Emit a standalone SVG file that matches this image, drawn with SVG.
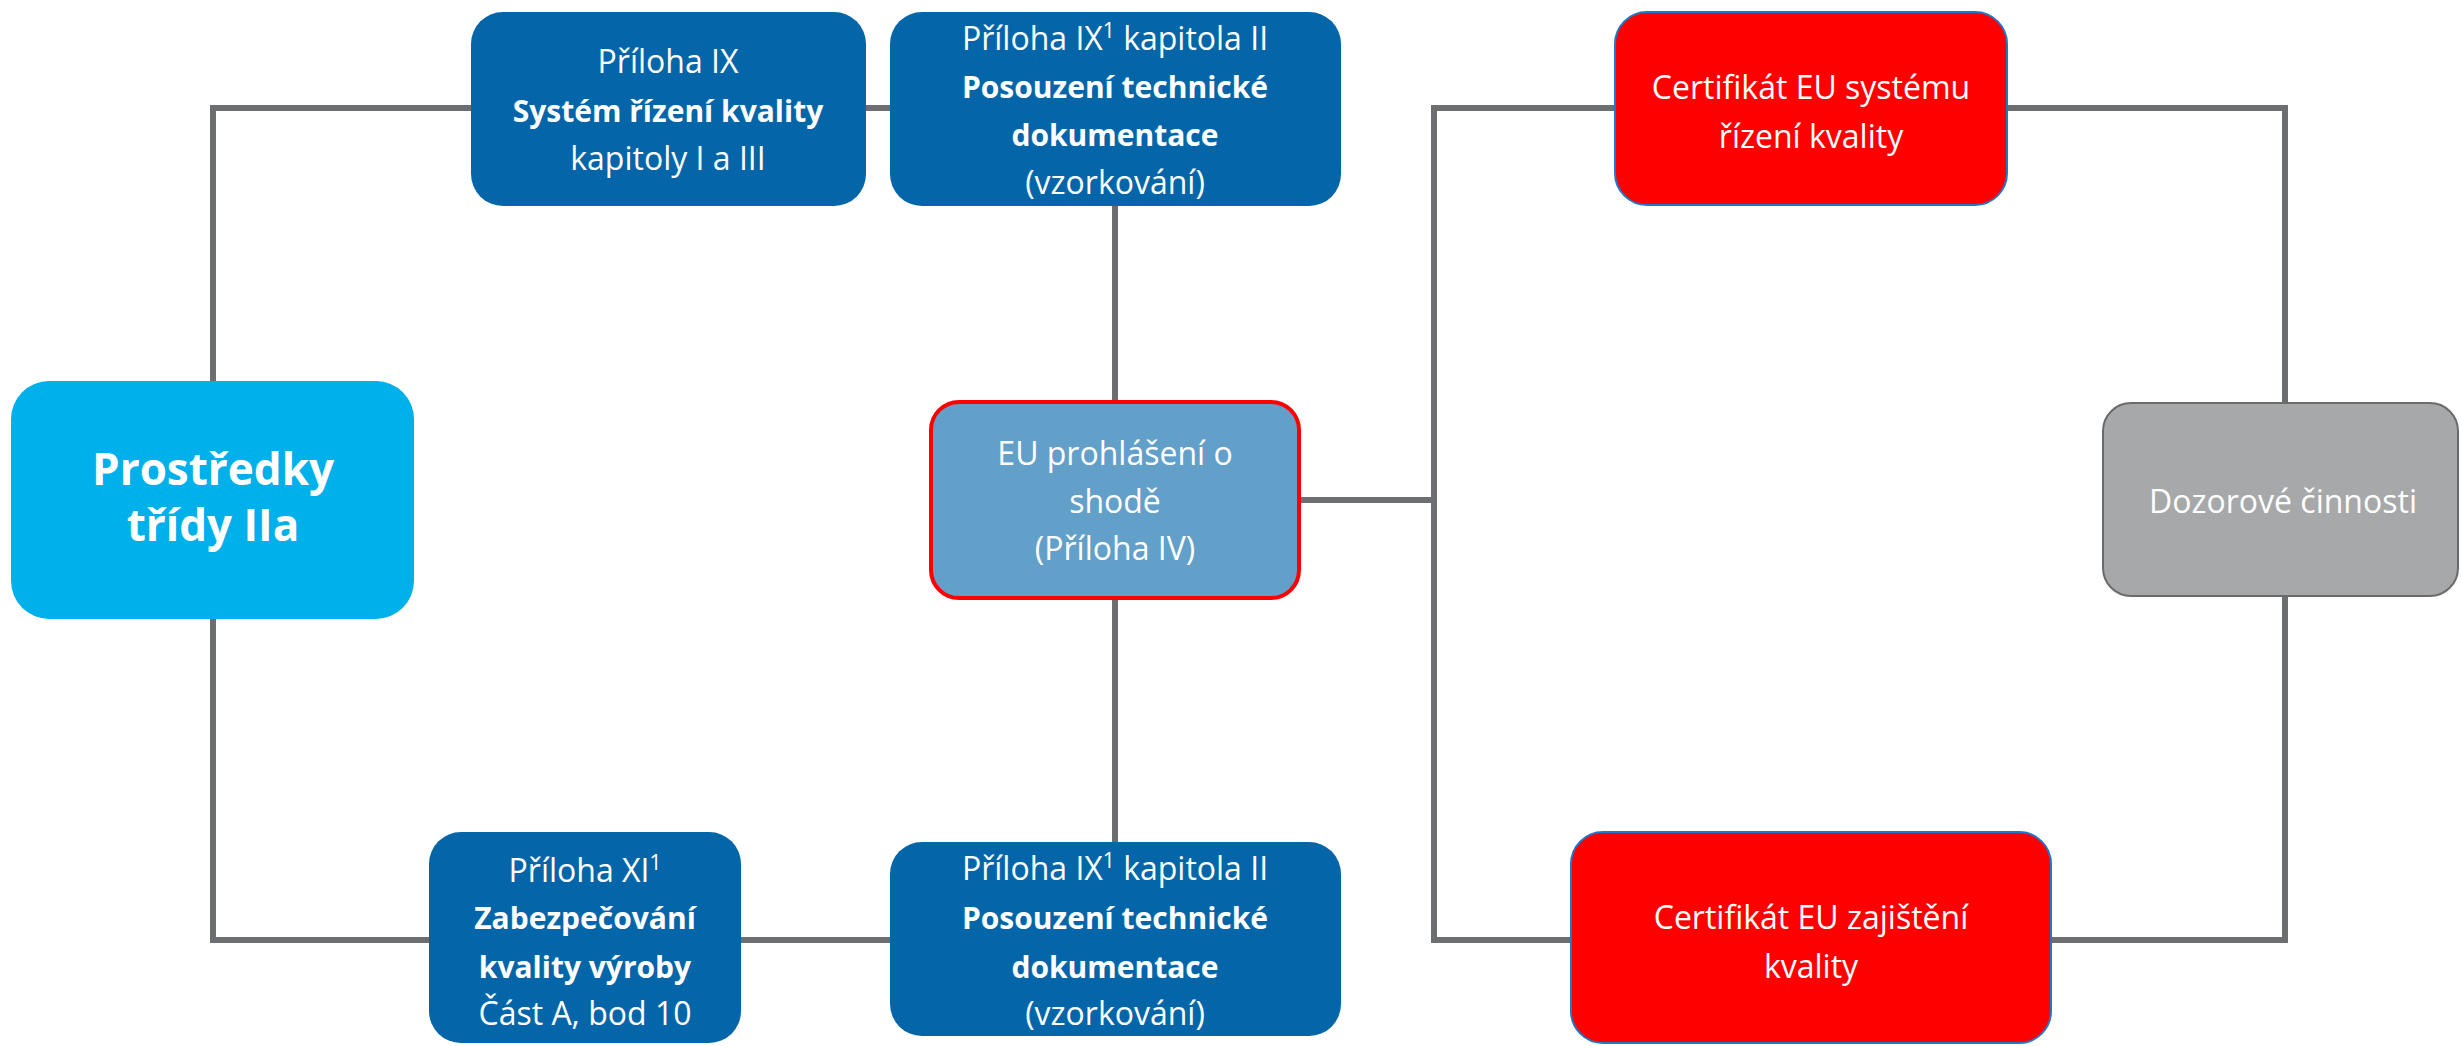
<svg xmlns="http://www.w3.org/2000/svg" width="2461" height="1046" viewBox="0 0 2461 1046">
  <style>
    .link { fill: none; stroke: #6d6e71; stroke-width: 6; }
    .dark { fill: #0466a9; }
    .light { fill: #00b0ea; }
    .decl { fill: #62a0c9; stroke: #ff0000; stroke-width: 4; }
    .cert { fill: #ff0000; stroke: #1f77c8; stroke-width: 2; }
    .grey { fill: #a7a8aa; stroke: #6b6b6b; stroke-width: 2; }
    text { font-family: "Open Sans", "Noto Sans", sans-serif; fill: #ffffff; text-anchor: middle; font-size: 32px; }
    .b { font-weight: bold; font-size: 30px; }
    .big { font-size: 44px; font-weight: bold; }
    .sup { font-size: 21px; }
  </style>

  <g id="connectors">
    <path class="link" d="M890,108 H213 V940 H890"/>
    <path class="link" d="M1115,206 V842"/>
    <path class="link" d="M1299,500 H1434"/>
    <path class="link" d="M1434,108 H2285 V940 H1434 Z"/>
  </g>

  <g id="node-trida">
    <rect class="light" x="11" y="381" width="403" height="238" rx="38"/>
    <text class="big" x="213" y="485">Prostředky</text>
    <text class="big" x="213" y="541">třídy IIa</text>
  </g>

  <g id="node-priloha-ix">
    <rect class="dark" x="471" y="12" width="395" height="194" rx="32"/>
    <text x="668" y="73">Příloha IX</text>
    <text class="b" x="668" y="122">Systém řízení kvality</text>
    <text x="668" y="170">kapitoly I a III</text>
  </g>

  <g id="node-posouzeni-top">
    <rect class="dark" x="890" y="12" width="451" height="194" rx="32"/>
    <text x="1115" y="50">Příloha IX<tspan class="sup" dy="-12">1</tspan><tspan dy="12"> kapitola II</tspan></text>
    <text class="b" x="1115" y="98">Posouzení technické</text>
    <text class="b" x="1115" y="146">dokumentace</text>
    <text x="1115" y="194">(vzorkování)</text>
  </g>

  <g id="node-prohlaseni">
    <rect class="decl" x="931" y="402" width="368" height="196" rx="28"/>
    <text x="1115" y="465">EU prohlášení o</text>
    <text x="1115" y="513">shodě</text>
    <text x="1115" y="560">(Příloha IV)</text>
  </g>

  <g id="node-priloha-xi">
    <rect class="dark" x="429" y="832" width="312" height="211" rx="32"/>
    <text x="585" y="882">Příloha XI<tspan class="sup" dy="-12">1</tspan></text>
    <text class="b" x="585" y="929">Zabezpečování</text>
    <text class="b" x="585" y="978">kvality výroby</text>
    <text x="585" y="1025">Část A, bod 10</text>
  </g>

  <g id="node-posouzeni-bottom">
    <rect class="dark" x="890" y="842" width="451" height="194" rx="32"/>
    <text x="1115" y="880">Příloha IX<tspan class="sup" dy="-12">1</tspan><tspan dy="12"> kapitola II</tspan></text>
    <text class="b" x="1115" y="929">Posouzení technické</text>
    <text class="b" x="1115" y="978">dokumentace</text>
    <text x="1115" y="1025">(vzorkování)</text>
  </g>

  <g id="node-cert-system">
    <rect class="cert" x="1615" y="12" width="392" height="193" rx="32"/>
    <text x="1811" y="99">Certifikát EU systému</text>
    <text x="1811" y="148">řízení kvality</text>
  </g>

  <g id="node-cert-zajisteni">
    <rect class="cert" x="1571" y="832" width="480" height="211" rx="32"/>
    <text x="1811" y="929">Certifikát EU zajištění</text>
    <text x="1811" y="978">kvality</text>
  </g>

  <g id="node-dozor">
    <rect class="grey" x="2103" y="403" width="355" height="193" rx="28"/>
    <text x="2283" y="513">Dozorové činnosti</text>
  </g>
</svg>
